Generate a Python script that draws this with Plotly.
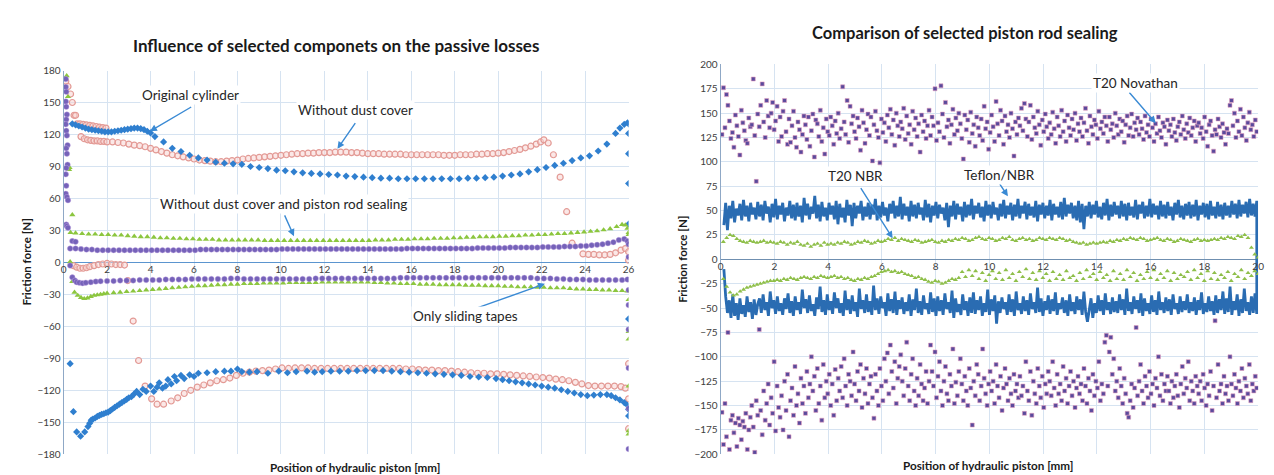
import numpy as np
import plotly.graph_objects as go


def grid(start, step, vals):
    return [round(start + step * i, 3) for i in range(len(vals))]


# ================= LEFT CHART DATA =================
X_TICKS_L = list(range(0, 27, 2))
Y_TICKS_L = list(range(-180, 181, 30))

# Original cylinder (blue diamonds)
orig_pos_x = [0.4, 0.55, 0.7, 0.85, 1.0, 1.15, 1.3, 1.45, 1.6, 1.75,
              1.9, 2.05, 2.2, 2.35, 2.5, 2.65, 2.8, 2.95, 3.1, 3.25,
              3.4, 3.55, 3.7, 3.85, 4.0, 4.2, 4.6, 5.0, 5.4, 5.8,
              6.2, 6.6, 7.0, 7.4, 7.8, 8.2, 8.6, 9.0, 9.4, 9.8,
              10.2, 10.6, 11.0, 11.4, 11.8, 12.2, 12.6, 13.0, 13.4, 13.8,
              14.2, 14.6, 15.0, 15.4, 15.8, 16.2, 16.6, 17.0, 17.4, 17.8,
              18.2, 18.6, 19.0, 19.4, 19.8, 20.2, 20.6, 21.0, 21.4, 21.8,
              22.2, 22.6, 23.0, 23.4, 23.8, 24.2, 24.6, 25.0, 25.4, 25.6,
              25.8, 25.95, 26, 26, 26, 26, 26]
orig_pos_y = [130, 129, 128, 127, 126, 125, 124.5, 124, 123.5, 123,
              122.5, 122.5, 122.5, 123, 123.5, 124, 124.5, 125, 125.5, 126,
              126, 125.5, 124.5, 123, 121.5, 118, 113, 107, 104, 100.5,
              98, 96, 94, 93, 92.5, 92, 90, 89, 88, 86.5,
              86, 85, 84, 83.5, 83, 82.5, 82, 81, 80.5, 80,
              79.5, 79, 79, 78.5, 78.5, 78.5, 78.5, 78.5, 78.5, 78.5,
              78.5, 79, 79, 79.5, 80, 81, 82, 83, 85, 87,
              89, 91, 93, 95.5, 98, 100, 104.5, 111, 121, 126,
              129.5, 131, 130, 121, 102, 74, 36]
orig_neg_x = [0.3, 0.45, 0.6, 0.78, 0.97, 1.12, 1.2, 1.27, 1.35, 1.45,
              1.55, 1.65, 1.75, 1.85, 1.95, 2.05, 2.15, 2.25, 2.35, 2.46,
              2.57, 2.68, 2.79, 2.9, 3.0, 3.12, 3.24, 3.36, 3.5, 3.65,
              3.8, 4.0, 4.15, 4.3, 4.4, 4.55, 4.7, 4.8, 4.95, 5.1,
              5.2, 5.4, 5.55, 5.8, 6.0, 6.2, 6.6, 7.0, 7.4, 7.7,
              8.0, 8.2, 8.55, 8.9, 9.4, 9.9, 10.3, 10.7, 11.2, 11.55,
              11.9, 12.3, 12.7, 13.1, 13.5, 13.9, 14.3, 14.7, 15.1, 15.5,
              15.9, 16.3, 16.7, 17.1, 17.5, 17.9, 18.3, 18.7, 19.1, 19.5,
              19.9, 20.2, 20.5, 20.8, 21.1, 21.4, 21.7, 22.0, 22.3, 22.6,
              22.9, 23.2, 23.5, 23.8, 24.1, 24.4, 24.7, 25.0, 25.2, 25.4,
              25.6, 25.8, 25.95, 26, 26, 26]
orig_neg_y = [-95, -140, -159, -163, -159, -154, -151, -148, -147, -146,
              -144.5, -143.5, -142.5, -142, -141, -140.5, -139, -137.5, -136, -134.5,
              -133, -131.5, -130, -128.5, -127, -126, -123.5, -121, -124, -119,
              -121, -116, -121, -117, -113, -118, -116, -110, -114, -107,
              -111, -106, -109, -105.5, -107, -104, -103.5, -102.5, -102, -102,
              -100, -102.5, -103, -102.5, -104, -102, -103.5, -102.5, -102, -103,
              -102.5, -102, -102, -102, -101.5, -101.5, -101.5, -101.5, -102, -102.5,
              -103, -103.5, -104, -104.5, -105, -105.5, -106, -107, -107.5, -108,
              -109, -110, -111, -112, -113, -114, -115, -116, -117, -118,
              -119.5, -121, -122.5, -124, -125, -124.5, -124, -124, -125, -127,
              -129, -131.5, -134, -138, -144, -53]

# Without dust cover (pink open circles)
dust_col_x = [0.1, 0.2, 0.32, 0.4, 0.48, 0.55, 0.62]
dust_col_y = [170, 165, 158, 150, 138, 138, 130]
dust_up_x = [0.75, 0.9, 1.05, 1.2, 1.35, 1.5, 1.65, 1.8, 1.95]
dust_up_y = [130, 129.5, 129, 128.5, 128, 127.5, 127, 126.5, 126]
dust_lowhead_x = [0.8, 0.95, 1.1, 1.25, 1.4, 1.55, 1.7, 1.85]
dust_lowhead_y = [118, 116, 115, 114.5, 114, 114, 113.5, 113.5]
dust_low_y = [113, 113, 112.5, 112, 111, 110, 109.5, 108.5, 107, 105.5,
              104, 102.5, 101, 100, 99, 98, 97, 96, 95.5, 95,
              94.5, 94.5, 95, 95.5, 96, 97, 97.5, 98, 98.5, 99,
              99.5, 100, 100.5, 101, 101.5, 102, 102, 102.5, 102.5, 103,
              103, 103, 103.5, 103.5, 103.5, 103, 103, 102.5, 102, 102,
              102, 101.5, 101.5, 101.5, 101.5, 101, 101, 101, 101, 101,
              101, 101, 100.5, 100.5, 100.5, 101, 101, 101, 101.5, 101.5,
              102, 102, 102.5, 103, 104, 105, 106, 107.5, 109, 111]
dust_low_x = grid(2.0, 0.25, dust_low_y)
dust_peak_x = [21.95, 22.1, 22.3, 22.54, 22.85, 23.15, 23.4]
dust_peak_y = [113, 115, 112, 101, 80, 47.6, 18]
dust_tail_x = [23.9, 24.15, 24.4, 24.65, 24.9, 25.15, 25.4, 25.65, 25.85, 26, 26]
dust_tail_y = [8, 7.5, 7.5, 7, 7, 7.5, 9, 11.5, 13, 10, 2]
dust_zero_x = [0.45, 0.6, 0.75, 0.9, 1.05, 1.2, 1.4, 1.6, 1.8, 2.0, 2.2, 2.4, 2.6, 2.8]
dust_zero_y = [-3, -4.5, -5.5, -5.5, -5, -4, -3, -2, -1.5, -1, -1.5, -2, -2, -2.5]
dust_neghead_x = [2.95, 3.2, 3.45, 3.75, 4.05, 4.3, 4.6, 4.95, 5.25, 5.55, 5.85]
dust_neghead_y = [-17, -55, -92, -116, -128, -133, -133, -130, -127, -123, -120]
dust_neg_y = [-117, -115, -113, -111, -110, -108.5, -106, -104, -103, -102,
              -101.5, -101, -100, -99, -99.5, -99, -99, -99, -99.5, -99.5,
              -99.5, -99.5, -99.5, -99.5, -99.5, -99.5, -99.5, -99.5, -99.5, -99.5,
              -99.5, -99.5, -100, -100, -100.5, -101, -101, -101.5, -101.5, -102,
              -102.5, -103, -103.5, -104, -104, -104.5, -104.5, -105, -105.5, -106,
              -106.5, -107, -107.5, -108, -108.5, -109.5, -110, -111, -112.5, -114,
              -115.5, -116, -116, -116, -116, -116.5]
dust_neg_x = grid(6.15, 0.3, dust_neg_y)
dust_negtail_x = [25.85, 26, 26, 26]
dust_negtail_y = [-118, -128, -156, -95]

# Without dust cover and piston rod sealing (green triangles)
seal_col_x = [0.14, 0.2, 0.25, 0.27, 0.4, 0.32]
seal_col_y = [175, 155.5, 87, 89, 44.6, 28]
seal_pos_y = [27.5, 27, 26.5, 26.5, 26, 26, 25.5, 25.5, 25, 24.5,
              24, 24, 23.5, 23, 23, 22.5, 22.5, 22, 22, 21.5,
              21.5, 21.5, 21, 21, 21, 21, 21, 21, 21, 20.5,
              20.5, 20.5, 20.5, 20.5, 20.5, 20.5, 20.5, 20.5, 20.5, 20.5,
              20.5, 20.5, 20.5, 20.5, 20.5, 20.5, 21, 21, 21, 21.5,
              21.5, 21.5, 22, 22, 22, 22.5, 22.5, 22.5, 23, 23,
              23.5, 23.5, 24, 24, 24, 24.5, 24.5, 25, 25, 25.5,
              25.5, 26, 26, 26.5, 27, 27, 27.5, 28, 28.5, 29,
              29.5, 30.5, 31.5, 33.5]
seal_pos_x = grid(0.55, 0.3, seal_pos_y)
seal_tail_x = [25.7, 25.85, 25.95, 26, 26]
seal_tail_y = [35.5, 35, 32, 28, 26]
seal_neghead_x = [0.3, 0.4, 0.5, 0.65, 0.8, 0.95, 1.1, 1.25, 1.4, 1.55, 1.7, 1.85]
seal_neghead_y = [0.6, -18, -28, -31, -33, -34, -33.5, -32, -31, -30.5, -30, -29.5]
seal_neg_y = [-29, -28.5, -28, -27.5, -27, -26.5, -26, -25.5, -25, -24.5,
              -24, -23.5, -23, -22.5, -22, -22, -21.5, -21, -21, -20.5,
              -20.5, -20, -20, -20, -19.5, -19.5, -19.5, -19.5, -19, -19,
              -19, -19, -19, -18.5, -18.5, -18.5, -18.5, -18.5, -18.5, -18.5,
              -18.5, -19, -19, -19.5, -19.5, -20, -20, -20, -20.5, -20.5,
              -20.5, -21, -21, -21, -21, -21.5, -21.5, -21.5, -22, -22,
              -22, -22.5, -22.5, -23, -23, -23, -23.5, -23.5, -24, -24,
              -24, -24.5, -25, -25, -25.5, -25.5, -26, -26, -26.5, -26.5]
seal_neg_x = grid(2.0, 0.3, seal_neg_y)
seal_negtail_x = [25.95, 26, 26, 26, 26, 26, 26]
seal_negtail_y = [-27, -35, -65, -72, -116, -158, -161]

# Only sliding tapes (purple circles)
tape_col_x = [0.1, 0.1, 0.12, 0.1, 0.12, 0.15, 0.12, 0.1, 0.12, 0.15,
              0.18, 0.12, 0.15, 0.18, 0.12, 0.1, 0.12, 0.1, 0.15, 0.2,
              0.12, 0.15, 0.2, 0.4, 0.55]
tape_col_y = [172, 164.6, 160, 151, 146, 138.7, 134, 129.6, 123.6, 119,
              110, 107, 102, 91.7, 88.6, 82.6, 72, 64.4, 61.3, 58.3,
              35.5, 34, 32.5, 20, 19.4]
tape_pos_y = [13, 13, 12.5, 12, 12, 11.5, 11.5, 11.5, 11.5, 11.5,
              11.5, 11.5, 11.5, 11.5, 11.5, 11.5, 11.5, 11.5, 11.5, 11.5,
              11.5, 11.5, 11.5, 11.5, 12, 12, 12, 12, 12, 12,
              12, 12, 12, 12, 12, 12, 12, 12, 12, 12.5,
              12.5, 12.5, 12.5, 12.5, 12.5, 12.5, 12.5, 12.5, 12.5, 12.5,
              12.5, 12.5, 12.5, 12.5, 12.5, 12.5, 12.5, 12.5, 12.5, 12.5,
              12.5, 12.5, 13, 13, 13, 13, 13, 13, 13, 13,
              13, 13, 13, 13, 13, 13.5, 13.5, 13.5, 13.5, 13.5,
              13.5, 14, 14, 14, 14, 14, 14, 14.5, 14.5, 14.5,
              14.5, 15, 15, 15, 15.5, 15.5, 16, 16.5, 17, 18,
              19, 21, 22]
tape_pos_x = grid(0.3, 0.25, tape_pos_y)
tape_tail_x = [25.95, 26, 26]
tape_tail_y = [20, 17, 5]
tape_neghead_x = [0.3, 0.4, 0.52, 0.6, 0.72, 0.87, 1.02, 1.25, 1.48, 1.7]
tape_neghead_y = [-3, -14, -17, -18.5, -19, -19.5, -19, -18.5, -18, -17.6]
tape_neg_y = [-17.5, -17.5, -17, -17, -17, -16.5, -16.5, -16.5, -16.5, -16,
              -16, -16, -16, -15.5, -15.5, -15.5, -15.5, -15.5, -15.5, -15,
              -15, -15.5, -15.5, -15.5, -15.5, -15.5, -15.5, -15.5, -15.5, -15.5,
              -15.5, -15.5, -15, -15, -15, -15, -15, -15, -15, -15,
              -15, -15, -15, -15, -15, -14.5, -14.5, -14.5, -14.5, -14.5,
              -14.5, -14.5, -14.5, -14.5, -14.5, -14.5, -14.5, -14.5, -14.5, -14.5,
              -14.5, -14.5, -14.5, -14.5, -14.5, -14.5, -15, -15, -15, -15.5,
              -15.5, -16, -16, -16, -16.5, -16.5, -16.5, -16.5, -16.5, -16.5]
tape_neg_x = grid(2.0, 0.3, tape_neg_y)
tape_negtail_x = [25.95, 26, 26, 26, 26, 26, 26]
tape_negtail_y = [-16, -26, -40, -63, -99, -137, -175]

# ================= RIGHT CHART DATA =================
X_TICKS_R = list(range(0, 21, 2))
Y_TICKS_R = list(range(-200, 201, 25))

# Teflon/NBR (blue line), positive and negative stroke
teflon_pos = [35, 58, 30, 55, 42, 60, 38, 52, 45, 57, 40, 61, 44, 55, 39, 58, 46, 53, 41, 59,
              44, 56, 40, 60, 47, 54, 38, 57, 43, 62, 41, 55, 46, 58, 39, 53, 45, 60, 42, 56,
              40, 58, 44, 55, 38, 63, 45, 57, 41, 54, 47, 65, 42, 56, 39, 59, 44, 53, 40, 58,
              46, 55, 41, 60, 36, 57, 43, 53, 38, 61, 45, 56, 34, 58, 42, 55, 47, 60, 40, 54,
              44, 58, 41, 56, 46, 62, 40, 55, 43, 59, 45, 53, 39, 57, 47, 60, 42, 55, 44, 64,
              41, 57, 45, 54, 39, 60, 44, 56, 42, 58, 46, 53, 40, 61, 43, 57, 38, 55, 45, 59,
              42, 56, 47, 53, 40, 58, 33, 55, 44, 60, 41, 57, 46, 54, 39, 59, 43, 56, 45, 62,
              41, 55, 47, 58, 43, 54, 39, 60, 45, 56, 42, 59, 46, 53, 40, 57, 44, 61, 42, 55,
              46, 58, 40, 56, 44, 62, 42, 55, 47, 59, 41, 57, 45, 54, 43, 60, 39, 56, 46, 58,
              42, 55, 45, 61, 40, 57, 46, 54, 43, 59, 41, 63, 44, 56, 47, 58, 42, 55, 40, 60,
              38, 57, 31, 55, 44, 59, 42, 56, 46, 60, 43, 54, 41, 58, 45, 62, 40, 56, 44, 59,
              46, 55, 42, 60, 44, 57, 40, 58, 45, 54, 43, 61, 41, 56, 47, 59, 42, 55, 44, 62,
              43, 57, 46, 55, 41, 60, 44, 56, 42, 59, 45, 54, 40, 58, 46, 61, 43, 55, 41, 57,
              45, 59, 42, 56, 44, 61, 40, 55, 46, 58, 43, 57, 41, 60, 45, 54, 42, 59, 44, 56,
              41, 58, 45, 55, 43, 60, 46, 57, 42, 61, 44, 56, 47, 59, 43, 62, 45, 57, 44, 60]
teflon_neg = [-10, -38, -55, -42, -60, -36, -58, -45, -62, -40, -56, -47, -59, -38, -54, -44, -61, -41, -57, -46,
              -40, -55, -36, -52, -44, -58, -33, -50, -42, -56, -38, -53, -45, -57, -40, -51, -35, -55, -43, -58,
              -38, -52, -44, -56, -31, -50, -41, -55, -37, -53, -46, -58, -39, -51, -28, -54, -42, -57, -36, -52,
              -43, -56, -34, -50, -40, -55, -45, -58, -32, -52, -41, -56, -37, -53, -44, -59, -30, -51, -42, -55,
              -36, -54, -43, -57, -27, -52, -40, -56, -38, -50, -44, -58, -35, -53, -41, -55, -33, -57, -42, -51,
              -39, -56, -44, -53, -36, -58, -41, -52, -30, -55, -43, -57, -37, -51, -45, -56, -34, -54, -40, -58,
              -38, -53, -42, -57, -35, -51, -44, -55, -32, -60, -40, -54, -46, -57, -36, -52, -43, -58, -39, -55,
              -34, -56, -42, -52, -38, -58, -45, -54, -31, -57, -41, -53, -37, -66, -43, -55, -39, -51, -44, -57,
              -36, -54, -41, -58, -33, -52, -45, -56, -38, -53, -42, -57, -35, -51, -44, -55, -29, -54, -40, -58,
              -43, -52, -37, -56, -41, -53, -34, -57, -45, -51, -39, -55, -42, -58, -36, -53, -44, -56, -38, -52,
              -41, -57, -33, -54, -64, -52, -40, -60, -45, -55, -37, -53, -42, -57, -35, -52, -44, -56, -39, -54,
              -43, -55, -36, -52, -41, -57, -30, -53, -44, -56, -38, -51, -42, -55, -35, -58, -40, -53, -45, -56,
              -37, -54, -42, -57, -33, -52, -44, -55, -39, -53, -41, -57, -36, -51, -45, -56, -38, -54, -43, -52,
              -36, -55, -44, -53, -39, -57, -42, -52, -34, -56, -45, -54, -38, -53, -43, -57, -37, -55, -41, -52,
              -33, -56, -40, -54, -28, -57, -43, -52, -36, -58, -41, -55, -30, -53, -44, -57, -38, -55, -35, -56]

# T20 NBR (green triangles)
nbr_pos = [18, 22, 25, 24, 21, 19, 18, 17, 19, 18, 17, 18, 19, 17, 18, 17,
           16, 18, 17, 15, 17, 16, 18, 15, 14, 16, 13, 15, 16, 14, 17, 15,
           16, 15, 17, 16, 18, 17, 15, 16, 18, 17, 19, 18, 16, 17, 19, 18,
           19, 21, 20, 22, 19, 21, 20, 19, 18, 20, 19, 17, 18, 19, 20, 18,
           17, 19, 18, 20, 19, 21, 20, 22, 21, 19, 20, 22, 23, 21, 20, 22,
           21, 19, 20, 22, 21, 23, 20, 19, 21, 22, 20, 21, 19, 20, 22, 21,
           20, 22, 21, 20, 22, 21, 19, 20, 18, 17, 16, 17, 15, 16, 17, 16,
           17, 18, 17, 19, 18, 20, 19, 21, 20, 22, 21, 20, 22, 21, 19, 20,
           21, 22, 20, 19, 21, 20, 18, 19, 21, 20, 19, 18, 20, 21, 19, 20,
           19, 20, 21, 20, 22, 21, 23, 22, 21, 24, 23, 25, 22, 12, 5, 2]
nbr_neg = [-20, -28, -34, -37, -36, -33, -31, -29, -28, -27, -26, -25, -24, -23, -22, -22,
           -21, -22, -20, -21, -19, -20, -21, -19, -18, -19, -20, -18, -19, -17, -18, -19,
           -18, -17, -19, -18, -20, -19, -21, -22, -20, -21, -19, -20, -18, -17, -15, -13,
           -12, -11, -13, -12, -14, -13, -15, -16, -17, -19, -18, -20, -21, -23, -24, -22,
           -23, -25, -24, -22, -20, -21, -19, -13, -18, -11, -17, -12, -20, -14, -22, -16,
           -12, -20, -14, -21, -11, -19, -15, -22, -13, -18, -10, -20, -14, -21, -12, -19,
           -15, -22, -13, -20, -16, -21, -12, -19, -17, -22, -14, -20, -11, -18, -15, -21,
           -13, -19, -16, -22, -12, -20, -15, -21, -11, -18, -14, -22, -16, -20, -13, -19,
           -11, -21, -15, -19, -12, -22, -14, -20, -16, -18, -13, -21, -11, -19, -15, -22,
           -12, -20, -14, -21, -16, -19, -13, -22, -15, -18, -11, -20, -14, -17, -12, -15]

# T20 Novathan (purple dots)
nov_pos = [128, 176, 135, 169, 158, 142, 124, 130, 115, 148, 137, 126, 107, 153, 140, 132, 122, 119, 145, 136,
           138, 185, 127, 80, 149, 136, 158, 180, 141, 125, 163, 147, 135, 150, 161, 133, 142, 157, 121, 146,
           126, 152, 163, 131, 118, 144, 120, 137, 152, 125, 115, 141, 133, 110, 128, 147, 138, 123, 146, 116,
           132, 149, 105, 143, 139, 126, 153, 121, 135, 108, 144, 131, 127, 146, 137, 118, 142, 129, 150, 124,
           134, 177, 141, 128, 163, 120, 157, 139, 147, 131, 124, 145, 136, 112, 153, 140, 119, 133, 149, 127,
           146, 101, 138, 152, 132, 125, 99, 144, 130, 140, 121, 148, 135, 154, 128, 143, 117, 150, 137, 126,
           141, 134, 155, 123, 147, 129, 138, 118, 152, 133, 145, 126, 139, 110, 148, 131, 142, 124, 137, 153,
           127, 146, 137, 175, 122, 140, 131, 178, 149, 125, 161, 136, 143, 119, 138, 154, 128, 145, 132, 150,
           139, 124, 103, 148, 133, 143, 120, 151, 129, 138, 116, 146, 135, 127, 144, 122, 157, 134, 141, 113,
           130, 148, 136, 121, 162, 139, 127, 153, 142, 118, 147, 131, 138, 125, 150, 134, 106, 141, 128, 145,
           137, 155, 132, 160, 144, 126, 141, 158, 123, 146, 135, 129, 152, 138, 117, 143, 131, 149, 136, 124,
           140, 128, 151, 134, 119, 146, 137, 126, 153, 131, 142, 121, 148, 135, 127, 144, 133, 150, 122, 139,
           131, 145, 126, 140, 155, 132, 119, 147, 136, 128, 143, 138, 124, 152, 134, 141, 129, 146, 137, 121,
           146, 133, 139, 125, 150, 137, 128, 144, 131, 142, 120, 138, 147, 127, 135, 149, 126, 140, 133, 145,
           128, 141, 134, 123, 147, 130, 138, 126, 144, 135, 121, 139, 129, 146, 132, 125, 140, 136, 118, 143,
           132, 138, 126, 144, 130, 122, 136, 141, 128, 147, 133, 124, 139, 130, 145, 127, 135, 142, 121, 137,
           140, 129, 135, 124, 146, 131, 116, 138, 142, 127, 111, 133, 128, 144, 136, 125, 139, 130, 118, 134,
           129, 158, 163, 137, 150, 125, 142, 131, 154, 127, 146, 135, 122, 140, 151, 133, 138, 126, 143, 131]
nov_neg = [-157, -190, -148, -182, -75, -195, -165, -160, -178, -168, -192, -163, -170, -185, -166, -172, -158, -195, -175, -162,
           -150, -172, -198, -145, -160, -72, -155, -180, -135, -165, -148, -128, -170, -142, -158, -105, -176, -130, -152, -162,
           -140, -175, -125, -155, -118, -182, -145, -132, -160, -110, -150, -138, -168, -122, -148, -130, -158, -115, -142, -128,
           -100, -135, -120, -155, -112, -148, -130, -165, -108, -142, -125, -138, -118, -150, -128, -160, -113, -145, -122, -135,
           -110, -142, -102, -130, -150, -118, -125, -140, -95, -128, -145, -115, -135, -108, -152, -122, -138, -112, -148, -128,
           -120, -142, -163, -118, -135, -150, -112, -130, -145, -102, -125, -96, -138, -88, -115, -132, -105, -148, -122, -110,
           -98, -125, -140, -112, -85, -130, -145, -118, -102, -135, -150, -122, -140, -108, -128, -145, -132, -115, -148, -125,
           -88, -115, -130, -95, -142, -120, -105, -135, -150, -125, -110, -138, -145, -118, -130, -92, -148, -126, -140, -115,
           -102, -128, -145, -120, -135, -150, -112, -132, -170, -125, -140, -108, -118, -145, -130, -92, -122, -138, -150, -128,
           -115, -135, -125, -148, -108, -130, -142, -120, -155, -132, -112, -128, -145, -122, -138, -150, -118, -135, -128, -142,
           -120, -140, -130, -158, -105, -135, -145, -115, -160, -125, -138, -148, -112, -130, -142, -120, -152, -128, -138, -115,
           -125, -140, -105, -132, -150, -118, -138, -128, -145, -110, -135, -122, -148, -130, -115, -140, -125, -152, -132, -120,
           -138, -128, -145, -112, -130, -148, -122, -135, -155, -118, -140, -125, -132, -105, -145, -128, -138, -85, -78, -130,
           -95, -80, -118, -102, -135, -125, -142, -112, -130, -148, -122, -138, -158, -162, -145, -128, -152, -132, -70, -140,
           -125, -108, -135, -148, -120, -130, -142, -115, -138, -128, -150, -122, -132, -100, -140, -118, -145, -128, -135, -120,
           -135, -148, -125, -142, -130, -118, -140, -152, -128, -110, -138, -122, -132, -105, -145, -125, -135, -148, -120, -130,
           -138, -125, -145, -118, -132, -150, -128, -140, -115, -155, -130, -63, -142, -108, -135, -128, -148, -120, -138, -130,
           -145, -100, -128, -140, -118, -132, -148, -125, -135, -112, -142, -122, -130, -138, -108, -145, -128, -135, -120, -132]

# sampling grids of the position sensor
teflon_x_pos = list(np.linspace(0.12, 19.95, len(teflon_pos)))
teflon_x_neg = list(np.linspace(0.12, 19.95, len(teflon_neg)))
nbr_x_pos = list(np.linspace(0.1, 20.0, len(nbr_pos)))
nbr_x_neg = list(np.linspace(0.1, 20.0, len(nbr_neg)))
nov_x_pos = list(np.linspace(0.05, 19.95, len(nov_pos)))
nov_x_neg = list(np.linspace(0.05, 19.95, len(nov_neg)))

for a, b in [(orig_pos_x, orig_pos_y), (orig_neg_x, orig_neg_y), (dust_col_x, dust_col_y),
             (dust_up_x, dust_up_y), (dust_lowhead_x, dust_lowhead_y), (dust_peak_x, dust_peak_y),
             (dust_tail_x, dust_tail_y), (dust_zero_x, dust_zero_y), (dust_neghead_x, dust_neghead_y),
             (dust_negtail_x, dust_negtail_y), (seal_col_x, seal_col_y), (seal_tail_x, seal_tail_y),
             (seal_neghead_x, seal_neghead_y), (seal_negtail_x, seal_negtail_y),
             (tape_col_x, tape_col_y), (tape_tail_x, tape_tail_y), (tape_neghead_x, tape_neghead_y),
             (tape_negtail_x, tape_negtail_y)]:
    assert len(a) == len(b), (len(a), len(b), a[:3])

# ================= STYLE =================
BLUE = "#2f7fcf"
PINK = "#e39a95"
GREEN = "#8cc63f"
PURPLE = "#7562b9"
TEF_BLUE = "#2a6cb2"
NBR_GREEN = "#8fbf4a"
NOV_PURPLE = "#5a4a9c"
GRID = "#d6e3f1"
ZERO = "#5b95cf"
TXT = "#404040"
ARROW = "#3a8ad4"
FONT = "Lato, 'Open Sans', sans-serif"

fig = go.Figure()


def cat(*lists):
    out = []
    for l in lists:
        out += list(l)
    return out


# left traces
fig.add_trace(go.Scatter(
    x=cat(dust_col_x, dust_up_x, dust_lowhead_x, dust_low_x, dust_peak_x, dust_tail_x,
          dust_zero_x, dust_neghead_x, dust_neg_x, dust_negtail_x),
    y=cat(dust_col_y, dust_up_y, dust_lowhead_y, dust_low_y, dust_peak_y, dust_tail_y,
          dust_zero_y, dust_neghead_y, dust_neg_y, dust_negtail_y),
    mode="markers", name="Without dust cover",
    marker=dict(symbol="circle", size=6, color="rgba(248,214,212,0.55)",
                line=dict(color=PINK, width=1.2)),
    xaxis="x", yaxis="y"))
fig.add_trace(go.Scatter(
    x=cat(orig_pos_x, orig_neg_x), y=cat(orig_pos_y, orig_neg_y),
    mode="markers", name="Original cylinder",
    marker=dict(symbol="diamond", size=5.5, color=BLUE, line=dict(width=0)),
    xaxis="x", yaxis="y"))
fig.add_trace(go.Scatter(
    x=cat(seal_col_x, seal_pos_x, seal_tail_x, seal_neghead_x, seal_neg_x, seal_negtail_x),
    y=cat(seal_col_y, seal_pos_y, seal_tail_y, seal_neghead_y, seal_neg_y, seal_negtail_y),
    mode="markers", name="Without dust cover and piston rod sealing",
    marker=dict(symbol="triangle-up", size=5.5, color=GREEN, line=dict(width=0)),
    xaxis="x", yaxis="y"))
fig.add_trace(go.Scatter(
    x=cat(tape_col_x, tape_pos_x, tape_tail_x, tape_neghead_x, tape_neg_x, tape_negtail_x),
    y=cat(tape_col_y, tape_pos_y, tape_tail_y, tape_neghead_y, tape_neg_y, tape_negtail_y),
    mode="markers", name="Only sliding tapes",
    marker=dict(symbol="circle", size=5.5, color=PURPLE,
                line=dict(color="rgba(200,170,230,0.7)", width=0.6)),
    xaxis="x", yaxis="y"))

# right traces
fig.add_trace(go.Scatter(
    x=cat(nov_x_pos, nov_x_neg), y=cat(nov_pos, nov_neg),
    mode="markers", name="T20 Novathan",
    marker=dict(symbol="square", size=4, color=NOV_PURPLE,
                line=dict(color="rgba(232,160,190,0.8)", width=0.7)),
    xaxis="x2", yaxis="y2"))
fig.add_trace(go.Scatter(
    x=cat(teflon_x_pos, teflon_x_neg[::-1]), y=cat(teflon_pos, teflon_neg[::-1]),
    mode="lines", name="Teflon/NBR",
    line=dict(color=TEF_BLUE, width=2.8),
    xaxis="x2", yaxis="y2"))
fig.add_trace(go.Scatter(
    x=cat(nbr_x_pos, nbr_x_neg), y=cat(nbr_pos, nbr_neg),
    mode="markers", name="T20 NBR",
    marker=dict(symbol="triangle-up", size=4.4, color=NBR_GREEN, line=dict(width=0)),
    xaxis="x2", yaxis="y2"))

W, H = 1274, 475
L_X0, L_X1, L_YT, L_YB, L_Y0 = 53, 622, 58, 451.7, 254
R_X0, R_X1, R_YT, R_YB, R_Y0 = 714.7, 1256, 51.7, 451.7, 251.7

axis_common = dict(showgrid=True, gridcolor=GRID, gridwidth=1, ticks="",
                   tickfont=dict(family=FONT, size=10, color=TXT))

fig.update_layout(
    width=W, height=H, margin=dict(l=0, r=0, t=0, b=0),
    paper_bgcolor="white", plot_bgcolor="white", showlegend=False,
    xaxis=dict(domain=[L_X0 / W, L_X1 / W], range=[0, 26], tickvals=X_TICKS_L,
               anchor="free", position=1 - L_Y0 / H, showline=False, zeroline=False,
               **axis_common),
    yaxis=dict(domain=[1 - L_YB / H, 1 - L_YT / H], range=[-180, 180], tickvals=Y_TICKS_L,
               anchor="x", showline=True, linecolor="#8fa8c6", linewidth=1,
               zeroline=True, zerolinecolor=ZERO, zerolinewidth=1.2, **axis_common),
    xaxis2=dict(domain=[R_X0 / W, R_X1 / W], range=[0, 20], tickvals=X_TICKS_R,
                anchor="free", position=1 - R_Y0 / H, showline=False, zeroline=False,
                **axis_common),
    yaxis2=dict(domain=[1 - R_YB / H, 1 - R_YT / H], range=[-200, 200], tickvals=Y_TICKS_R,
                anchor="x2", showline=True, linecolor="#8fa8c6", linewidth=1,
                zeroline=True, zerolinecolor="#6f8fb0", zerolinewidth=1.2, **axis_common),
)

ann = []
# titles
ann.append(dict(text="<b>Influence of selected componets on the passive losses</b>",
                x=327 / W, y=1 - 32 / H, xref="paper", yref="paper", showarrow=False,
                xanchor="center", yanchor="middle",
                font=dict(family=FONT, size=17, color="#1a1a1a")))
ann.append(dict(text="<b>Comparison of selected piston rod sealing</b>",
                x=961 / W, y=1 - 20 / H, xref="paper", yref="paper", showarrow=False,
                xanchor="center", yanchor="middle",
                font=dict(family=FONT, size=16.5, color="#1a1a1a")))
# axis titles
for xx, yy in [(16, 254), (676, 252)]:
    ann.append(dict(text="<b>Friction force [N]</b>", x=xx / W, y=1 - yy / H,
                    xref="paper", yref="paper", showarrow=False, textangle=-90,
                    xanchor="center", yanchor="middle",
                    font=dict(family=FONT, size=11.5, color="#1a1a1a")))
for xx, yy in [(347, 465), (984, 463)]:
    ann.append(dict(text="<b>Position of hydraulic piston [mm]</b>", x=xx / W, y=1 - yy / H,
                    xref="paper", yref="paper", showarrow=False,
                    xanchor="center", yanchor="middle",
                    font=dict(family=FONT, size=11.7, color="#1a1a1a")))

# labels with arrows (data coordinates)
labels = [
    ("x", "y", "Original cylinder", 5.85, 156.6, 5.94, 146.6, 3.97, 123),
    ("x", "y", "Without dust cover", 13.42, 143, 13.47, 132, 12.6, 106.6),
    ("x", "y", "Without dust cover and piston rod sealing", 10.14, 54.6, 10.14, 45.5, 10.6, 24.6),
    ("x", "y", "Only sliding tapes", 18.5, -50, 18.9, -43.7, 22.15, -20),
    ("x2", "y2", "T20 Novathan", 15.42, 180.7, 15.16, 172.7, 16.19, 139.7),
    ("x2", "y2", "Teflon/NBR", 10.39, 86.7, 10.35, 78.7, 10.69, 64.7),
    ("x2", "y2", "T20 NBR", 5.03, 85.7, 5.18, 74.7, 6.4, 21.7),
]
for xr, yr, t, tx, ty, axx, ayy, hx, hy in labels:
    ann.append(dict(text="", x=hx, y=hy, xref=xr, yref=yr, axref=xr, ayref=yr,
                    ax=axx, ay=ayy, showarrow=True, arrowhead=2, arrowsize=1,
                    arrowwidth=1.4, arrowcolor=ARROW, standoff=0, startstandoff=0))
    ann.append(dict(text=t, x=tx, y=ty, xref=xr, yref=yr, showarrow=False,
                    xanchor="center", yanchor="middle",
                    bgcolor="white", borderpad=1,
                    font=dict(family=FONT, size=13.5, color="#262626")))

fig.update_layout(annotations=ann)
fig.write_html("out.html")
